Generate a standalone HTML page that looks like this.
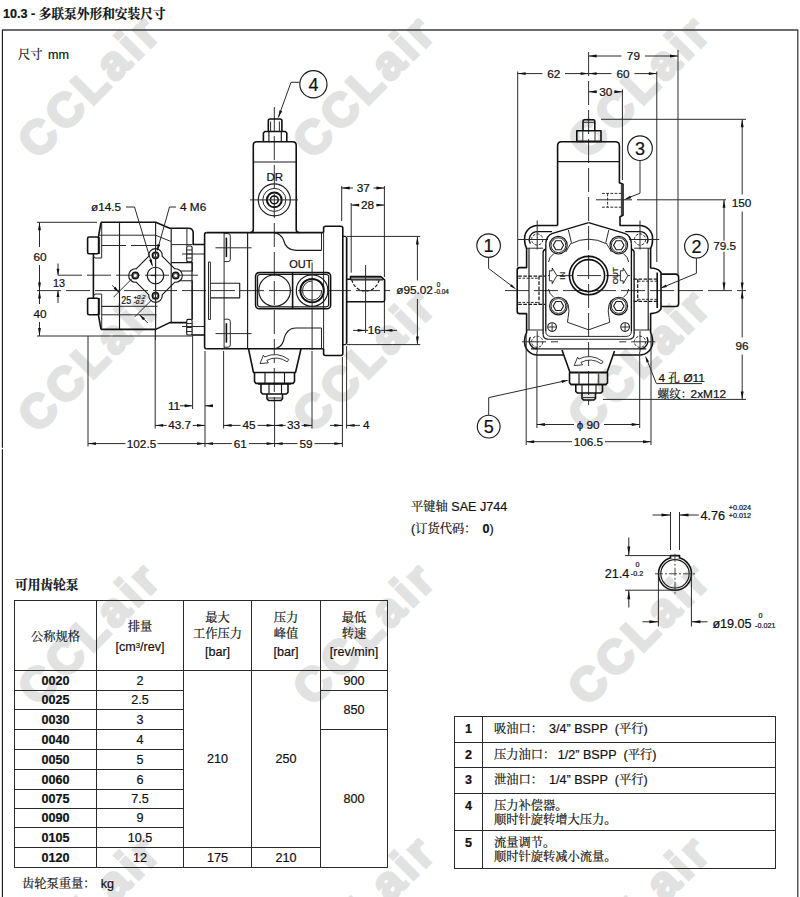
<!DOCTYPE html>
<html lang="zh"><head><meta charset="utf-8"><title>10.3</title>
<style>
html,body{margin:0;padding:0;background:#fff;}
body{width:800px;height:897px;position:relative;overflow:hidden;font-family:"Liberation Sans",sans-serif;font-size:12.6px;color:#111;-webkit-text-stroke:.2px #111;}
.abs{position:absolute;white-space:nowrap;line-height:1;}
span.cj{font-family:"Liberation Sans","Noto Serif CJK SC",serif;font-size:12.25px;}
.wm{position:absolute;font-weight:bold;font-size:46.8px;color:#e2e2e2;-webkit-text-stroke:3px #e2e2e2;line-height:1;white-space:nowrap;transform:translate(-50%,-50%) rotate(-45deg);letter-spacing:4.4px;}
#draw{position:absolute;left:0;top:0;}
h1{position:absolute;left:3px;top:7px;margin:0;font-size:12.6px;font-weight:bold;line-height:14px;white-space:nowrap;}
table{position:absolute;border-collapse:collapse;table-layout:fixed;}
td,th{border:1px solid #2a2a2a;padding:0;text-align:center;font-weight:normal;line-height:1;overflow:hidden;}
#t1 td,#t1 th{font-size:12.6px;}
#t1 td{padding-top:1px;}
#t1 th{line-height:20px;padding-top:2px;}
#t1 td.b{font-weight:bold;}
#t2 td{text-align:left;vertical-align:top;padding:6px 0 0 11px;line-height:13.7px;}
#t2 td.n{font-weight:bold;text-align:center;padding-left:0;}
sup{font-size:.62em;line-height:0;vertical-align:.45em;}
#t1 th.h3{padding-top:2px;}
#t1 th.h3 span{display:block;line-height:16px;}
#t1 th.h3 span.u{line-height:21px;}
#t1 th.h3 span.cj{display:inline;}

</style></head>
<body>
<div class="wm" style="left:89.6px;top:86.4px">CCLair</div>
<div class="wm" style="left:364.9px;top:86.4px">CCLair</div>
<div class="wm" style="left:640.2px;top:86.4px">CCLair</div>
<div class="wm" style="left:89.6px;top:359.7px">CCLair</div>
<div class="wm" style="left:364.9px;top:359.7px">CCLair</div>
<div class="wm" style="left:640.2px;top:359.7px">CCLair</div>
<div class="wm" style="left:89.6px;top:633.0px">CCLair</div>
<div class="wm" style="left:364.9px;top:633.0px">CCLair</div>
<div class="wm" style="left:640.2px;top:633.0px">CCLair</div>
<div class="wm" style="left:89.6px;top:906.3px">CCLair</div>
<div class="wm" style="left:364.9px;top:906.3px">CCLair</div>
<div class="wm" style="left:640.2px;top:906.3px">CCLair</div>

<h1>10.3 - <span class="cj" style="font-size:12.7px">多联泵外形和安装尺寸</span></h1>
<div class="abs" style="left:18px;top:49px"><span class="cj">尺寸</span><span style="margin-left:5.4px">mm</span></div>

<svg id="draw" width="800" height="897" viewBox="0 0 800 897" font-family="Liberation Sans, sans-serif" font-size="11.8" fill="none" stroke-linecap="butt" stroke-linejoin="round">
<style>.k{stroke:#111;stroke-width:1.6}.m{stroke:#1a1a1a;stroke-width:1.15}.t{stroke:#2a2a2a;stroke-width:1}.c{stroke:#333;stroke-width:1;stroke-dasharray:24 5}.c2{stroke:#333;stroke-width:1;stroke-dasharray:11 3}.h{stroke:#222;stroke-width:.95;stroke-dasharray:2.8 1.4}.k3{stroke:#111;stroke-width:2}.ar{fill:#111;stroke:none}.tx{fill:#111;stroke:#111;stroke-width:.22}.w{fill:#fff;stroke:none}</style>
<path class="fr" d="M2.4 30H797.8V897"/>
<path class="fl" d="M2.4 29.4V447.8M2.4 449.2V897"/>
<style>.fr{stroke:#3c3c3c;stroke-width:1.3}.fl{stroke:#1c1c1c;stroke-width:1.15}</style>
<path class="c" d="M37 290.6L390 290.6"/>
<path class="c" d="M58 275.2L200 275.2"/>
<path class="c" d="M274.3 107L274.3 402"/>
<path class="t" d="M155.5 222.3L155.5 340"/>
<path class="k" d="M101 222.3H155.7L169.7 228.2H188.5Q193.2 228.2 193.2 233V244.5H204.6"/>
<path class="k" d="M101 222.3L98.4 237"/>
<path class="k" d="M101 329.4H155.7L169.7 322.6H186.7"/>
<path class="k" d="M101 329.4L98.4 314.8"/>
<path class="k" d="M192 335H204.6"/>
<rect class="k" x="87.6" y="237" width="11" height="16.8" rx="1.5"/>
<rect class="k" x="87.6" y="298.2" width="11" height="16.6" rx="1.5"/>
<path class="k" d="M93.4 253.8V298.2"/>
<path class="t" d="M93.4 256L95 258H101.7"/>
<path class="t" d="M93.4 296L95 294H101.7"/>
<path class="t" d="M101.7 222.3L101.7 258"/>
<path class="t" d="M101.7 294L101.7 329.4"/>
<path class="t" d="M99.6 237L99.6 254"/>
<path class="t" d="M99.6 298L99.6 315"/>
<path class="m" d="M119.5 222.3L119.5 329.4"/>
<path class="t" d="M98.6 235.2H155.5L170.8 241.4"/>
<path class="t" d="M101.7 245.5L126 245.5"/>
<path class="t" d="M131 245.5L160 245.5"/>
<path class="t" d="M101.7 306.5L119.5 306.5"/>
<path class="t" d="M155.7 222.3L155.7 329.4"/>
<path class="m" d="M171.2 228.2L171.2 322.6"/>
<path class="t" d="M171.2 244.6L192.6 244.6"/>
<path class="t" d="M186.9 228.2L186.9 246"/>
<path class="m" d="M192 261.8L192 319.5"/>
<path class="m" d="M171.2 262.6H192.3V271H180.5 M179.2 280.7H192.3V319.4"/>
<rect class="m" x="186.7" y="246" width="5.4" height="15.8" rx="1.6"/>
<rect class="m" x="186.7" y="319.4" width="5.4" height="15.6" rx="1.6"/>
<path class="t" d="M187 250L192 250"/>
<path class="t" d="M187 254L192 254"/>
<path class="t" d="M187 258L192 258"/>
<path class="t" d="M187 323.5L192 323.5"/>
<path class="t" d="M187 327.5L192 327.5"/>
<path class="t" d="M187 331.5L192 331.5"/>
<path class="t" d="M182 254L204 254"/>
<path class="t" d="M182 326.5L204 326.5"/>
<circle class="k" cx="155.5" cy="255.3" r="3.1"/>
<circle cx="155.5" cy="255.3" r="2.5" fill="#555" stroke="none"/>
<circle class="w" cx="155.5" cy="255.3" r="1.5"/>
<circle class="k" cx="155.5" cy="295.7" r="3.1"/>
<circle cx="155.5" cy="295.7" r="2.5" fill="#555" stroke="none"/>
<circle class="w" cx="155.5" cy="295.7" r="1.5"/>
<circle class="k" cx="135.3" cy="275.5" r="3.1"/>
<circle cx="135.3" cy="275.5" r="2.5" fill="#555" stroke="none"/>
<circle class="w" cx="135.3" cy="275.5" r="1.5"/>
<circle class="k" cx="175.7" cy="275.5" r="3.1"/>
<circle cx="175.7" cy="275.5" r="2.5" fill="#555" stroke="none"/>
<circle class="w" cx="175.7" cy="275.5" r="1.5"/>
<circle class="m" cx="155.5" cy="275.5" r="8.3"/>
<path class="m" d="M151 275.5L155.5 275.5"/>
<path class="m" d="M155.5 273.3L155.5 277.7"/>
<path class="t" d="M155.5 246.3L155.5 267.2"/>
<path class="t" d="M155.5 283.8L155.5 304.7"/>
<path class="m" d="M162.15 256.15L174.85 268.85A6.7 6.7 0 1 1 174.85 282.15L162.15 294.85A6.7 6.7 0 1 1 148.85 294.85L136.15 282.15A6.7 6.7 0 1 1 136.15 268.85L148.85 256.15A6.7 6.7 0 1 1 162.15 256.15Z"/>
<path class="t" d="M126 207L134.5 207"/>
<path class="t" d="M134.5 207L152.3 265.5"/>
<path class="ar" d="M152.60 266.80L149.09 260.02L151.77 259.22Z"/>
<path class="t" d="M176 207L169.5 207"/>
<path class="t" d="M169.5 207L157.4 250"/>
<path class="ar" d="M156.90 251.60L157.58 244.00L160.28 244.76Z"/>
<text class="tx" x="91" y="211" text-anchor="start">&#248;14.5</text>
<text class="tx" x="180" y="211" text-anchor="start">4 M6</text>
<path class="t" d="M132.1 278.5L113.5 297.2"/>
<path class="t" d="M152 299.6L134.5 317.1"/>
<path class="t" d="M112.2 285.4L119.5 292.7"/>
<path class="t" d="M139.1 314.3L147.8 323"/>
<path class="ar" d="M119.50 292.70L113.60 288.70L115.50 286.80Z"/>
<path class="ar" d="M139.10 314.30L145.00 318.30L143.10 320.20Z"/>
<path class="t" d="M101.7 306.3L157.5 306.3"/>
<path class="t" d="M101.7 314.8L156.5 314.8"/>
<text class="tx" x="121.2" y="304.4" font-size="10.6" textLength="10" lengthAdjust="spacingAndGlyphs">25</text>
<text class="tx" x="133.4" y="299.2" font-size="6" font-style="italic">+0.2</text>
<text class="tx" x="133.8" y="304.4" font-size="6" font-style="italic">-0.2</text>
<path class="t" d="M37 222.3L97 222.3"/>
<path class="t" d="M37 336L192 336"/>
<path class="t" d="M39.5 222.3L39.5 247"/>
<path class="t" d="M39.5 265L39.5 304"/>
<path class="t" d="M39.5 322L39.5 336"/>
<path class="ar" d="M39.50 222.30L40.95 230.30L38.05 230.30Z"/>
<path class="ar" d="M39.50 290.60L38.05 282.60L40.95 282.60Z"/>
<path class="ar" d="M39.50 290.60L40.95 298.60L38.05 298.60Z"/>
<path class="ar" d="M39.50 336.00L38.05 328.00L40.95 328.00Z"/>
<text class="tx" x="40" y="261.3" text-anchor="middle">60</text>
<text class="tx" x="40" y="318" text-anchor="middle">40</text>
<path class="t" d="M58 263.5L58 275.2"/>
<path class="t" d="M58 290.6L58 303"/>
<path class="ar" d="M58.00 275.20L56.55 268.70L59.45 268.70Z"/>
<path class="ar" d="M58.00 290.60L59.45 297.10L56.55 297.10Z"/>
<text class="tx" x="59" y="287.3" text-anchor="middle" font-size="10.8">13</text>
<path class="k" d="M206.6 232.6H323.6 M206.6 348.8H323.6"/>
<path class="k" d="M206.6 232.6Q204.6 232.6 204.6 234.6V346.8Q204.6 348.8 206.6 348.8"/>
<path class="t" d="M224.1 232.6L224.1 348.8"/>
<path class="m" d="M247.6 232.6L247.6 348.8"/>
<path class="t" d="M208.5 262L208.5 319.5"/>
<path class="t" d="M210.4 262L210.4 319.5"/>
<path class="t" d="M208.5 262L210.4 262"/>
<path class="t" d="M208.5 319.5L210.4 319.5"/>
<path class="t" d="M224.1 233.6H228Q230.3 233.6 230.3 235.9V259.3Q230.3 261.6 228 261.6H224.1"/>
<path class="k" d="M226.4 237.6L226.4 257.1"/>
<path class="t" d="M224.1 319.2H228Q230.3 319.2 230.3 321.5V344.9Q230.3 347.2 228 347.2H224.1"/>
<path class="k" d="M226.4 323.2L226.4 342.7"/>
<path class="t" d="M215.5 247.8L251.5 247.8"/>
<path class="t" d="M215.5 333.6L251.5 333.6"/>
<path class="m" d="M210.4 283.2H239.7V297.8H210.4"/>
<path class="k" d="M250.3 232.6Q253.3 232.6 253.3 229.6V145.2Q253.3 141.7 256.8 141.7H292.7Q296.2 141.7 296.2 145.2V229.6Q296.2 232.6 299.2 232.6"/>
<path class="m" d="M253.3 162L296.2 162"/>
<path class="k" d="M263.4 141V133L264.9 131.5H285.3L286.8 133V141"/>
<path class="m" d="M268.9 131.5L268.9 141"/>
<path class="m" d="M281.3 131.5L281.3 141"/>
<path class="k" d="M268.3 131.5V120.8Q268.3 119 270.1 119H280.1Q281.9 119 281.9 120.8V131.5"/>
<path class="t" d="M270.6 121.5L270.6 131.5"/>
<path class="t" d="M279.4 121.5L279.4 131.5"/>
<text class="tx" x="274.8" y="180.8" text-anchor="middle" font-size="11.5">DR</text>
<circle class="m" cx="274.3" cy="199.9" r="16"/>
<circle class="t" cx="274.3" cy="199.9" r="11.5"/>
<circle class="k3" cx="274.3" cy="199.9" r="7.4"/>
<circle class="k" cx="274.3" cy="199.9" r="3.9"/>
<path class="t" d="M250 199.9L298 199.9"/>
<circle class="m" cx="313.4" cy="84.2" r="13.6"/>
<text class="tx" x="313.4" y="90.68" text-anchor="middle" font-size="18">4</text>
<path class="t" d="M299.8 82.3H291L278.3 117.5"/>
<path class="ar" d="M278.30 117.80L279.52 110.27L282.16 111.22Z"/>
<path class="k" d="M325.6 226.3H340.8Q342.8 226.3 342.8 228.3V353.5Q342.8 355.5 340.8 355.5H325.6Q323.6 355.5 323.6 353.5V348.8 M323.6 232.6V228.3Q323.6 226.3 325.6 226.3"/>
<path class="t" d="M323.6 232.6L323.6 348.8"/>
<path class="m" d="M342.8 236.4H345.3L346.6 237.7V343.3L345.3 344.6H342.8"/>
<path class="k" d="M346.6 237.7L346.6 343.3"/>
<path d="M351 277H380.6L382.6 279.8H351Z" fill="#9a9a9a" stroke="none"/>
<path class="k" d="M346.6 279.2H350.5V276.6H380.9L384 279.3Q384.6 279.6 384.6 280.6V300.2Q384.6 301.8 383 301.8H346.6"/>
<path class="m" d="M350.5 279.9L383 279.9"/>
<path d="M351.8 279.5A13.9 13.9 0 0 0 379.2 279.5" fill="none" stroke="#1a1a1a" stroke-width="1.15" stroke-dasharray="3.4 1.6"/>
<path class="m" d="M274 232.6Q281 233.5 283.5 240Q286 250.4 296 250.4H321.5"/>
<path class="m" d="M274 348.8Q281 348 283.5 341Q286 328 296 328H321.5"/>
<path class="t" d="M321.5 232.6L321.5 250.4"/>
<path class="t" d="M321.5 328L321.5 348.8"/>
<rect class="k" x="255.6" y="272.6" width="75" height="36.1" rx="3.5"/>
<rect class="m" x="257.6" y="274.5" width="71" height="32.3" rx="2.2"/>
<path class="k" d="M292.6 272.7L292.6 308.6"/>
<circle class="m" cx="274.6" cy="290.6" r="15.8"/>
<circle class="m" cx="312.1" cy="290.6" r="15.8"/>
<circle class="k3" cx="312.1" cy="290.6" r="11.7"/>
<path class="t" d="M312.1 281 A9.6 9.6 0 1 0 321.7 290.6"/>
<path class="t" d="M312.1 262.5L312.1 350"/>
<text class="tx" x="300.8" y="267.5" text-anchor="middle" font-size="11">OUT</text>
<path class="k" d="M248.5 348.8L253.5 372.5 M301 348.8L295.5 372.5"/>
<path class="k" d="M253 372.5H296"/>
<path class="k" d="M254.5 372.5V381.5L256 383.4H293L294.5 381.5V372.5"/>
<path class="m" d="M265 372.5L265 383.4"/>
<path class="m" d="M284.5 372.5L284.5 383.4"/>
<path class="k" d="M261 384V392.2L262.6 394H286.4L288 392.2V384"/>
<path class="k" d="M258 384L291 384"/>
<path class="m" d="M269 384L269 394"/>
<path class="m" d="M281.5 384L281.5 394"/>
<path class="k" d="M267 394V398.8L268.6 400.5H280.9L282.5 398.8V394"/>
<path class="t" d="M268 398L281.5 398"/>
<style>.ar2{fill:#fff;stroke:#1a1a1a;stroke-width:.85;stroke-linejoin:miter}</style>
<path class="ar2" d="M287.2 361.8L288.8 359.5Q277 351 264.6 357L263.4 355.2L260 363.6L268.4 362.8L266.8 360.4Q277 355 287.2 361.8Z"/>
<path class="t" d="M341.7 186L341.7 221"/>
<path class="t" d="M351.2 203L351.2 272.7"/>
<path class="t" d="M384.4 186L384.4 277"/>
<path class="t" d="M341.7 188L353 188"/>
<path class="t" d="M373.5 188L384.4 188"/>
<path class="ar" d="M341.70 188.00L349.70 186.55L349.70 189.45Z"/>
<path class="ar" d="M384.40 188.00L376.40 189.45L376.40 186.55Z"/>
<text class="tx" x="363.3" y="192" text-anchor="middle">37</text>
<path class="t" d="M351.2 205.1L357.5 205.1"/>
<path class="t" d="M377.5 205.1L384.4 205.1"/>
<path class="ar" d="M351.20 205.10L359.20 203.65L359.20 206.55Z"/>
<path class="ar" d="M384.40 205.10L376.40 206.55L376.40 203.65Z"/>
<text class="tx" x="367.5" y="209.1" text-anchor="middle">28</text>
<path class="t" d="M365.6 265L365.6 333"/>
<path class="t" d="M384.4 302L384.4 333"/>
<path class="t" d="M353 330.4L365.6 330.4"/>
<path class="t" d="M365.6 330.4L368 330.4"/>
<path class="t" d="M380.5 330.4L397 330.4"/>
<path class="ar" d="M365.60 330.40L357.60 331.85L357.60 328.95Z"/>
<path class="ar" d="M384.40 330.40L392.40 328.95L392.40 331.85Z"/>
<text class="tx" x="374.2" y="334.4" text-anchor="middle">16</text>
<path class="t" d="M346.6 236.4L420.3 236.4"/>
<path class="t" d="M346.6 344.6L420.3 344.6"/>
<path class="t" d="M417.4 236.4L417.4 280.5"/>
<path class="t" d="M417.4 299L417.4 344.6"/>
<path class="ar" d="M417.40 236.40L418.85 244.40L415.95 244.40Z"/>
<path class="ar" d="M417.40 344.60L415.95 336.60L418.85 336.60Z"/>
<text class="tx" x="396.2" y="294.2" text-anchor="start">&#248;95.02</text>
<text class="tx" x="436.8" y="286.6" text-anchor="start" font-size="6.4">0</text>
<text class="tx" x="434.3" y="293.6" text-anchor="start" font-size="6.4">-0.04</text>
<path class="t" d="M88 336L88 446.5"/>
<path class="t" d="M155.2 329.4L155.2 428.5"/>
<path class="t" d="M192.6 335L192.6 409"/>
<path class="t" d="M205 351L205 447"/>
<path class="t" d="M223.6 351L223.6 428.5"/>
<path class="t" d="M274.6 402L274.6 447"/>
<path class="t" d="M312 351L312 428.5"/>
<path class="t" d="M342.4 357L342.4 447"/>
<path class="t" d="M346.6 346L346.6 428.5"/>
<path class="t" d="M88 443.6L125.5 443.6"/>
<path class="t" d="M157.5 443.6L205 443.6"/>
<path class="ar" d="M88.00 443.60L96.00 442.15L96.00 445.05Z"/>
<path class="ar" d="M205.00 443.60L197.00 445.05L197.00 442.15Z"/>
<text class="tx" x="141.5" y="447.6" text-anchor="middle">102.5</text>
<path class="t" d="M205 443.6L231.8 443.6"/>
<path class="t" d="M248.8 443.6L274.6 443.6"/>
<path class="ar" d="M205.00 443.60L213.00 442.15L213.00 445.05Z"/>
<path class="ar" d="M274.60 443.60L266.60 445.05L266.60 442.15Z"/>
<text class="tx" x="240.3" y="447.6" text-anchor="middle">61</text>
<path class="t" d="M274.6 443.6L297.5 443.6"/>
<path class="t" d="M314.5 443.6L342.4 443.6"/>
<path class="ar" d="M274.60 443.60L282.60 442.15L282.60 445.05Z"/>
<path class="ar" d="M342.40 443.60L334.40 445.05L334.40 442.15Z"/>
<text class="tx" x="306" y="447.6" text-anchor="middle">59</text>
<path class="t" d="M155.2 425.4L166.7 425.4"/>
<path class="t" d="M192.7 425.4L205 425.4"/>
<path class="ar" d="M155.20 425.40L163.20 423.95L163.20 426.85Z"/>
<path class="ar" d="M205.00 425.40L197.00 426.85L197.00 423.95Z"/>
<text class="tx" x="179.7" y="429.4" text-anchor="middle">43.7</text>
<path class="t" d="M223.6 425.4L240.5 425.4"/>
<path class="t" d="M257.5 425.4L274.6 425.4"/>
<path class="ar" d="M223.60 425.40L231.60 423.95L231.60 426.85Z"/>
<path class="ar" d="M274.60 425.40L266.60 426.85L266.60 423.95Z"/>
<text class="tx" x="249" y="429.4" text-anchor="middle">45</text>
<path class="t" d="M274.6 425.4L285.6 425.4"/>
<path class="t" d="M301.6 425.4L312 425.4"/>
<path class="ar" d="M274.60 425.40L282.60 423.95L282.60 426.85Z"/>
<path class="ar" d="M312.00 425.40L304.00 426.85L304.00 423.95Z"/>
<text class="tx" x="293.6" y="429.4" text-anchor="middle">33</text>
<path class="t" d="M330 425.4L342.4 425.4"/>
<path class="t" d="M346.6 425.4L360 425.4"/>
<path class="ar" d="M342.40 425.40L334.40 426.85L334.40 423.95Z"/>
<path class="ar" d="M346.60 425.40L354.60 423.95L354.60 426.85Z"/>
<text class="tx" x="366.2" y="429.4" text-anchor="middle">4</text>
<path class="t" d="M180 405.8L192.6 405.8"/>
<path class="t" d="M205 405.8L212.5 405.8"/>
<path class="ar" d="M192.60 405.80L184.60 407.25L184.60 404.35Z"/>
<path class="ar" d="M205.00 405.80L213.00 404.35L213.00 407.25Z"/>
<text class="tx" x="174" y="409.8" text-anchor="middle">11</text>
<path class="c" d="M588.6 52L588.6 405"/>
<path class="c" d="M505 290.6L746 290.6"/>
<path class="c" d="M548 275.6L632 275.6"/>
<path class="k" d="M557.6 225.5V145.8Q557.6 141.8 561.6 141.8H615.2Q619.4 141.8 619.4 145.8V182.8L623 184.2V215.3L620 216.8V225.5"/>
<path class="m" d="M557.6 161.6L619.4 161.6"/>
<path class="t" d="M621.4 184.2L621.4 215.3"/>
<rect class="k" x="576.8" y="130.8" width="24.2" height="10.6"/>
<path class="t" d="M582.8 130.8L582.8 141.4"/>
<path class="t" d="M595 130.8L595 141.4"/>
<path class="k" d="M583 130.8V121.3Q583 119.8 584.5 119.8H593.3Q594.8 119.8 594.8 121.3V130.8"/>
<path class="t" d="M583 122.3L594.8 122.3"/>
<path class="h" d="M602 193.4H621 M602 207.2H621 M607.6 193.4V207.2"/>
<path class="t" d="M596 199.8L632 199.8"/>
<path class="k" d="M557.6 225.5H537.6A13 13 0 0 0 524.6 238.5Q524.6 245 526.6 248"/>
<path class="k" d="M526.6 333Q524.6 336 524.6 342A13 13 0 0 0 537.6 355H563.5"/>
<path class="k2" d="M530.4 243.5A7.9 7.9 0 0 1 537.2 231.6H552"/>
<path class="k2" d="M530.4 337A7.9 7.9 0 0 0 537.2 348.8"/>
<circle class="h" cx="537.2" cy="239.5" r="5.6"/>
<circle class="h" cx="537.2" cy="341.8" r="5.6"/>
<path class="t" d="M537.2 220.5L537.2 249.5"/>
<path class="t" d="M518 239.5L548 239.5"/>
<path class="t" d="M537.2 331L537.2 352"/>
<path class="c" d="M522 341.8L558 341.8"/>
<path class="k2" d="M545.8 249Q543.1 250 543.1 252.5V334"/>
<path class="k2" d="M545.8 243.5L545.8 331"/>
<path class="t" d="M526.6 248.2L543.1 248.2"/>
<path class="t" d="M526.6 330L543.1 330"/>
<path class="k2" d="M588.6 222.6L552.6 233.4Q546.4 235.6 545.8 243.5"/>
<path class="m" d="M543.1 334Q543.1 339.2 548.5 339.2H588.6"/>
<path class="t" d="M545.8 331Q545.8 336.4 551 336.4H588.6"/>
<circle class="m" cx="558.4" cy="245.2" r="8.8"/>
<circle class="t" cx="558.4" cy="245.2" r="7.4"/>
<polygon class="m" points="563.60 245.20 561.00 249.70 555.80 249.70 553.20 245.20 555.80 240.70 561.00 240.70"/>
<circle class="m" cx="558.4" cy="306" r="8.8"/>
<circle class="t" cx="558.4" cy="306" r="7.4"/>
<polygon class="m" points="563.60 306.00 561.00 310.50 555.80 310.50 553.20 306.00 555.80 301.50 561.00 301.50"/>
<circle class="m" cx="552.1" cy="327" r="4.3"/>
<path class="t" d="M548.5 327L555.7 327"/>
<path class="t" d="M552.1 323.4L552.1 330.6"/>
<path class="t" d="M568.4 230L571.4 242.6"/>
<path class="t" d="M571.4 242.6Q568.5 247 565.8 252"/>
<path class="t" d="M565.8 300Q569 304 569 311Q568 318 567.5 322.3L588.6 329.8"/>
<path class="t" d="M554 253.5Q549 257 548.5 262"/>
<path class="t" d="M554 297.5Q549 294 548.5 289"/>
<path class="k" d="M619.6 225.5H639.6A13 13 0 0 1 652.6 238.5Q652.6 245 650.6 248"/>
<path class="k" d="M650.6 333Q652.6 336 652.6 342A13 13 0 0 1 639.6 355H613.7"/>
<path class="k2" d="M646.8 243.5A7.9 7.9 0 0 0 640 231.6H625.2"/>
<path class="k2" d="M646.8 337A7.9 7.9 0 0 1 640 348.8"/>
<circle class="h" cx="640" cy="239.5" r="5.6"/>
<circle class="h" cx="640" cy="341.8" r="5.6"/>
<path class="t" d="M640 220.5L640 249.5"/>
<path class="t" d="M659.2 239.5L629.2 239.5"/>
<path class="t" d="M640 331L640 352"/>
<path class="c" d="M655.2 341.8L619.2 341.8"/>
<path class="k2" d="M631.4 249Q634.1 250 634.1 252.5V334"/>
<path class="k2" d="M631.4 243.5L631.4 331"/>
<path class="t" d="M650.6 248.2L634.1 248.2"/>
<path class="t" d="M650.6 330L634.1 330"/>
<path class="k2" d="M588.6 222.6L624.6 233.4Q630.8 235.6 631.4 243.5"/>
<path class="m" d="M634.1 334Q634.1 339.2 628.7 339.2H588.6"/>
<path class="t" d="M631.4 331Q631.4 336.4 626.2 336.4H588.6"/>
<circle class="m" cx="618.8" cy="245.2" r="8.8"/>
<circle class="t" cx="618.8" cy="245.2" r="7.4"/>
<polygon class="m" points="624.00 245.20 621.40 249.70 616.20 249.70 613.60 245.20 616.20 240.70 621.40 240.70"/>
<circle class="m" cx="618.8" cy="306" r="8.8"/>
<circle class="t" cx="618.8" cy="306" r="7.4"/>
<polygon class="m" points="624.00 306.00 621.40 310.50 616.20 310.50 613.60 306.00 616.20 301.50 621.40 301.50"/>
<circle class="m" cx="625.1" cy="327" r="4.3"/>
<path class="t" d="M628.7 327L621.5 327"/>
<path class="t" d="M625.1 323.4L625.1 330.6"/>
<path class="t" d="M608.8 230L605.8 242.6"/>
<path class="t" d="M605.8 242.6Q608.7 247 611.4 252"/>
<path class="t" d="M611.4 300Q608.2 304 608.2 311Q609.2 318 609.7 322.3L588.6 329.8"/>
<path class="t" d="M623.2 253.5Q628.2 257 628.7 262"/>
<path class="t" d="M623.2 297.5Q628.2 294 628.7 289"/>
<style>.h2{stroke:#1a1a1a;stroke-width:1.25;stroke-dasharray:3.6 1.5}</style>
<path class="k" d="M526.6 248V267.6H519.6Q517.2 267.6 517.2 270V311.2Q517.2 313.6 519.6 313.6H526.6V333"/>
<path class="m" d="M529 248.2L529 330"/>
<path class="h2" d="M518.2 276.2H545.4 M518.2 304.4H545.4 M539 276.2V304.4"/>
<path class="h" d="M518.2 278.2H539 M518.2 302.4H539"/>
<path class="k" d="M650.6 248V268Q657 268.4 659.4 270.8L661 272.6V309L659.4 310.8Q657 313.2 650.6 313.6V333"/>
<path class="k" d="M661 274.1H675.6Q678.6 274.1 678.6 277.1V303.5Q678.6 306.5 675.6 306.5H661"/>
<path class="m" d="M648.2 248.2L648.2 330"/>
<path class="k" d="M657.2 272.6L657.2 308"/>
<path class="h2" d="M633.4 279.2H658 M633.4 301.3H658 M637.7 279.2V301.3"/>
<path class="h" d="M637.7 281.2H658 M637.7 299.3H658"/>
<path class="t" d="M571.4 243.5A36.5 36.5 0 0 1 605.8 243.5"/>
<circle class="k" cx="588.6" cy="275.6" r="19.2"/>
<circle class="k" cx="588.6" cy="275.6" r="16"/>
<path class="m2" d="M549.4 270.8H552.2V268L556.9 275.6 L552.2 283.6V280.8H549.4Z"/>
<path class="m2" d="M620.4 270.8H623.2V268L627.9 275.6 L623.2 283.6V280.8H620.4Z"/>
<style>.m2{stroke:#1a1a1a;stroke-width:.9;fill:#fff}.k2{stroke:#111;stroke-width:1.35}</style>
<text class="tx" font-size="8" text-anchor="middle" transform="translate(564.6 275.8) rotate(-90)" stroke="#111" stroke-width=".3">IN</text>
<text class="tx" font-size="8.1" text-anchor="middle" transform="translate(618.2 275.8) rotate(-90)" stroke="#111" stroke-width=".25">OUT</text>
<path class="m" d="M531 348.8L646.2 348.8"/>
<path class="k" d="M562 350L570 372.5 M614.5 351L607 372.5"/>
<path class="k3" d="M569 372.5H608"/>
<path class="k" d="M569.5 372.5V382.8L571 384.5H606L607.5 382.8V372.5"/>
<path class="g2" d="M579 372.5L579 384.5"/>
<path class="g2" d="M598.5 372.5L598.5 384.5"/>
<style>.g2{stroke:#555;stroke-width:1.6}</style>
<path class="k" d="M571 384.5L606 384.5"/>
<path class="k" d="M575.8 384.5V391.4L577.4 393H600.9L602.5 391.4V384.5"/>
<path class="m" d="M582 384.5L582 393"/>
<path class="m" d="M596 384.5L596 393"/>
<path class="k" d="M582 393V398.4L583.6 400H593.9L595.5 398.4V393"/>
<path class="t" d="M583 397.6L595 397.6"/>
<path class="ar2" d="M601.4 363.8L603 361.5Q591.2 353 578.8 359L577.6 357.2L574.2 365.6L582.6 364.8L581 362.4Q591.2 357 601.4 363.8Z"/>
<circle class="m" cx="488.6" cy="245.6" r="11.8"/>
<text class="tx" x="488.6" y="252.08" text-anchor="middle" font-size="18">1</text>
<path class="t" d="M488.6 257.4V268.5L512.5 286.5"/>
<path class="ar" d="M516.40 289.40L510.01 286.26L511.56 284.17Z"/>
<circle class="m" cx="696.4" cy="246.2" r="11.8"/>
<text class="tx" x="696.4" y="252.68" text-anchor="middle" font-size="18">2</text>
<path class="t" d="M696.4 258V273.3L665.5 286.2"/>
<path class="ar" d="M659.90 288.50L665.85 284.59L666.86 286.99Z"/>
<circle class="m" cx="640" cy="148.2" r="12.3"/>
<text class="tx" x="640" y="154.68" text-anchor="middle" font-size="18">3</text>
<path class="t" d="M640 160.5V193.2L629.6 197.3"/>
<path class="ar" d="M623.80 199.70L630.26 195.64L631.29 198.24Z"/>
<circle class="m" cx="488.7" cy="426.6" r="11.4"/>
<text class="tx" x="488.7" y="433.08" text-anchor="middle" font-size="18">5</text>
<path class="t" d="M488.7 415.2V397.6L563.5 381.2"/>
<path class="ar" d="M569.00 380.00L561.98 382.98L561.37 380.24Z"/>
<path class="t" d="M517.7 71.5L517.7 266.6"/>
<path class="t" d="M622.4 89.5L622.4 180"/>
<path class="t" d="M656.8 71.5L656.8 262"/>
<path class="t" d="M678 50L678 274"/>
<path class="t" d="M588.6 56L621.5 56"/>
<path class="t" d="M645 56L678 56"/>
<path class="ar" d="M588.60 56.00L596.60 54.55L596.60 57.45Z"/>
<path class="ar" d="M678.00 56.00L670.00 57.45L670.00 54.55Z"/>
<text class="tx" x="633.4" y="60" text-anchor="middle">79</text>
<path class="t" d="M517.7 73.6L542.5 73.6"/>
<path class="t" d="M565 73.6L611.5 73.6"/>
<path class="t" d="M634.5 73.6L656.8 73.6"/>
<path class="ar" d="M517.70 73.60L525.70 72.15L525.70 75.05Z"/>
<path class="ar" d="M588.60 73.60L580.60 75.05L580.60 72.15Z"/>
<path class="ar" d="M588.60 73.60L596.60 72.15L596.60 75.05Z"/>
<path class="ar" d="M656.80 73.60L648.80 75.05L648.80 72.15Z"/>
<text class="tx" x="553.8" y="77.6" text-anchor="middle">62</text>
<text class="tx" x="623" y="77.6" text-anchor="middle">60</text>
<path class="t" d="M588.6 91.8L597 91.8"/>
<path class="t" d="M614.5 91.8L622.4 91.8"/>
<path class="ar" d="M588.60 91.80L596.60 90.35L596.60 93.25Z"/>
<path class="ar" d="M622.40 91.80L614.40 93.25L614.40 90.35Z"/>
<text class="tx" x="605.8" y="95.8" text-anchor="middle">30</text>
<path class="t" d="M601 119.3L746 119.3"/>
<path class="t" d="M637 199.8L726 199.8"/>
<path class="t" d="M742.2 119.3L742.2 194.5"/>
<path class="t" d="M742.2 211.5L742.2 290.6"/>
<path class="t" d="M742.2 290.6L742.2 337.5"/>
<path class="t" d="M742.2 354.5L742.2 399.4"/>
<path class="ar" d="M742.20 119.30L743.65 127.30L740.75 127.30Z"/>
<path class="ar" d="M742.20 290.60L740.75 282.60L743.65 282.60Z"/>
<path class="ar" d="M742.20 290.60L743.65 298.60L740.75 298.60Z"/>
<path class="ar" d="M742.20 399.40L740.75 391.40L743.65 391.40Z"/>
<text class="tx" x="741.6" y="207.3" text-anchor="middle">150</text>
<text class="tx" x="742" y="350.2" text-anchor="middle">96</text>
<path class="t" d="M724 199.8L724 290.6"/>
<path class="ar" d="M724.00 199.80L725.45 207.80L722.55 207.80Z"/>
<path class="ar" d="M724.00 290.60L722.55 282.60L725.45 282.60Z"/>
<rect class="w" x="713.2" y="240.7" width="24" height="11"/>
<text class="tx" x="713.2" y="250.2" text-anchor="start">79.5</text>
<path class="t" d="M603 399.4L746 399.4"/>
<path class="t" d="M526.2 335L526.2 445"/>
<path class="t" d="M651 335L651 445"/>
<path class="t" d="M536.9 352L536.9 428"/>
<path class="t" d="M639.7 352L639.7 428"/>
<path class="t" d="M536.9 424.5L574 424.5"/>
<path class="t" d="M604 424.5L639.7 424.5"/>
<path class="ar" d="M536.90 424.50L544.90 423.05L544.90 425.95Z"/>
<path class="ar" d="M639.70 424.50L631.70 425.95L631.70 423.05Z"/>
<text class="tx" x="588.2" y="428.5" text-anchor="middle">&#632; 90</text>
<path class="t" d="M526.2 441.7L572 441.7"/>
<path class="t" d="M605 441.7L651 441.7"/>
<path class="ar" d="M526.20 441.70L534.20 440.25L534.20 443.15Z"/>
<path class="ar" d="M651.00 441.70L643.00 443.15L643.00 440.25Z"/>
<text class="tx" x="588.4" y="445.7" text-anchor="middle">106.5</text>
<path class="t" d="M646.2 358L656.4 383.6H702"/>
<path class="ar" d="M645.20 355.60L649.04 361.60L646.53 362.60Z"/>
<text class="tx" x="658.6" y="381.8" text-anchor="start">4</text>
<text class="tx" x="668.2" y="381.6" text-anchor="start" font-size="11.6" font-family="'Liberation Sans','Noto Serif CJK SC',serif">孔</text>
<text class="tx" x="683.4" y="381.8" text-anchor="start">&#216;11</text>
<text class="tx" x="657.6" y="397.6" text-anchor="start" font-size="11.6" font-family="'Liberation Sans','Noto Serif CJK SC',serif">螺纹：</text>
<text class="tx" x="690.6" y="397.8" text-anchor="start">2xM12</text>
<circle class="k" cx="675" cy="573.8" r="16.5"/>
<circle class="m" cx="675" cy="573.8" r="14.2"/>
<path d="M670.5 558V555.6H679.5V558" class="k" fill="#fff"/>
<style>.c3{stroke:#333;stroke-width:.9;stroke-dasharray:8 2 2 2}</style>
<path class="c3" d="M654 573.8 H696.5" stroke-dashoffset="-1"/>
<path class="c3" d="M675 553.8 V595" stroke-dashoffset="0"/>
<path class="t" d="M670.5 512L670.5 550"/>
<path class="t" d="M679.5 512L679.5 550"/>
<path class="t" d="M652.5 515L670.5 515"/>
<path class="t" d="M679.5 515L698.8 515"/>
<path class="ar" d="M670.50 515.00L661.50 516.50L661.50 513.50Z"/>
<path class="ar" d="M679.50 515.00L688.50 513.50L688.50 516.50Z"/>
<text class="tx" x="700.4" y="519.6" text-anchor="start" font-size="12.6">4.76</text>
<text class="tx" x="728.8" y="509.6" text-anchor="start" font-size="7.2">+0.024</text>
<text class="tx" x="728.8" y="517.6" text-anchor="start" font-size="7.2">+0.012</text>
<path class="t" d="M625 555.6L670.5 555.6"/>
<path class="t" d="M625 590.2L675 590.2"/>
<path class="t" d="M628.8 537.5L628.8 555.6"/>
<path class="t" d="M628.8 590.2L628.8 607.5"/>
<path class="ar" d="M628.80 555.60L627.30 546.60L630.30 546.60Z"/>
<path class="ar" d="M628.80 590.20L630.30 599.20L627.30 599.20Z"/>
<text class="tx" x="604.8" y="577.8" text-anchor="start" font-size="12.6">21.4</text>
<text class="tx" x="635.5" y="566.8" text-anchor="start" font-size="7.2">0</text>
<text class="tx" x="630.8" y="576" text-anchor="start" font-size="7.2">-0.2</text>
<path class="t" d="M658.4 575L658.4 626.5"/>
<path class="t" d="M691.4 575L691.4 626.5"/>
<path class="t" d="M642.5 621.8L658.4 621.8"/>
<path class="t" d="M691.4 621.8L707.5 621.8"/>
<path class="ar" d="M658.40 621.80L649.40 623.30L649.40 620.30Z"/>
<path class="ar" d="M691.40 621.80L700.40 620.30L700.40 623.30Z"/>
<text class="tx" x="712.4" y="627.6" text-anchor="start" font-size="12.6">&#248;19.05</text>
<text class="tx" x="758.5" y="617.8" text-anchor="start" font-size="7.2">0</text>
<text class="tx" x="755" y="627.6" text-anchor="start" font-size="7.2">-0.021</text>
</svg>

<div class="abs" style="left:411px;top:501px"><span class="cj">平键轴</span> SAE J744</div>
<div class="abs" style="left:411px;top:523px">(<span class="cj">订货代码：</span>&nbsp;&thinsp;<b>0</b>)</div>

<div class="abs" style="left:15px;top:579px"><b><span class="cj" style="font-size:12.7px">可用齿轮泵</span></b></div>

<table id="t1" style="left:14px;top:600px">
<colgroup><col style="width:82px"><col style="width:87px"><col style="width:68px"><col style="width:69px"><col style="width:67px"></colgroup>
<tr style="height:70px"><th><span class="cj">公称规格</span></th><th><span class="cj">排量</span><br>[cm<sup>3</sup>/rev]</th><th class="h3"><span><span class="cj">最大</span></span><span><span class="cj">工作压力</span></span><span class="u">[bar]</span></th><th class="h3"><span><span class="cj">压力</span></span><span><span class="cj">峰值</span></span><span class="u">[bar]</span></th><th class="h3"><span><span class="cj">最低</span></span><span><span class="cj">转速</span></span><span class="u">[rev/min]</span></th></tr>
<tr style="height:20px"><td class="b">0020</td><td>2</td><td rowspan="9">210</td><td rowspan="9">250</td><td>900</td></tr>
<tr style="height:19px"><td class="b">0025</td><td>2.5</td><td rowspan="2">850</td></tr>
<tr style="height:20px"><td class="b">0030</td><td>3</td></tr>
<tr style="height:20px"><td class="b">0040</td><td>4</td><td rowspan="7">800</td></tr>
<tr style="height:20px"><td class="b">0050</td><td>5</td></tr>
<tr style="height:20px"><td class="b">0060</td><td>6</td></tr>
<tr style="height:19px"><td class="b">0075</td><td>7.5</td></tr>
<tr style="height:19px"><td class="b">0090</td><td>9</td></tr>
<tr style="height:20px"><td class="b">0105</td><td>10.5</td></tr>
<tr style="height:20px"><td class="b">0120</td><td>12</td><td>175</td><td>210</td></tr>
</table>
<div class="abs" style="left:22px;top:878px"><span class="cj">齿轮泵重量：</span><span style="margin-left:5.2px">kg</span></div>

<table id="t2" style="left:454px;top:716px">
<colgroup><col style="width:28px"><col style="width:293px"></colgroup>
<tr style="height:26px"><td class="n">1</td><td><span class="cj">吸油口：</span>&thinsp; 3/4&rdquo; BSPP&nbsp; (<span class="cj">平行</span>)</td></tr>
<tr style="height:25px"><td class="n">2</td><td><span class="cj">压力油口：</span>&thinsp;1/2&rdquo; BSPP&nbsp; (<span class="cj">平行</span>)</td></tr>
<tr style="height:26px"><td class="n">3</td><td><span class="cj">泄油口：</span>&thinsp; 1/4&rdquo; BSPP&nbsp; (<span class="cj">平行</span>)</td></tr>
<tr style="height:37px"><td class="n">4</td><td><span class="cj">压力补偿器。</span><br><span class="cj">顺时针旋转增大压力。</span></td></tr>
<tr style="height:38px"><td class="n">5</td><td><span class="cj">流量调节。</span><br><span class="cj">顺时针旋转减小流量。</span></td></tr>
</table>

</body></html>
